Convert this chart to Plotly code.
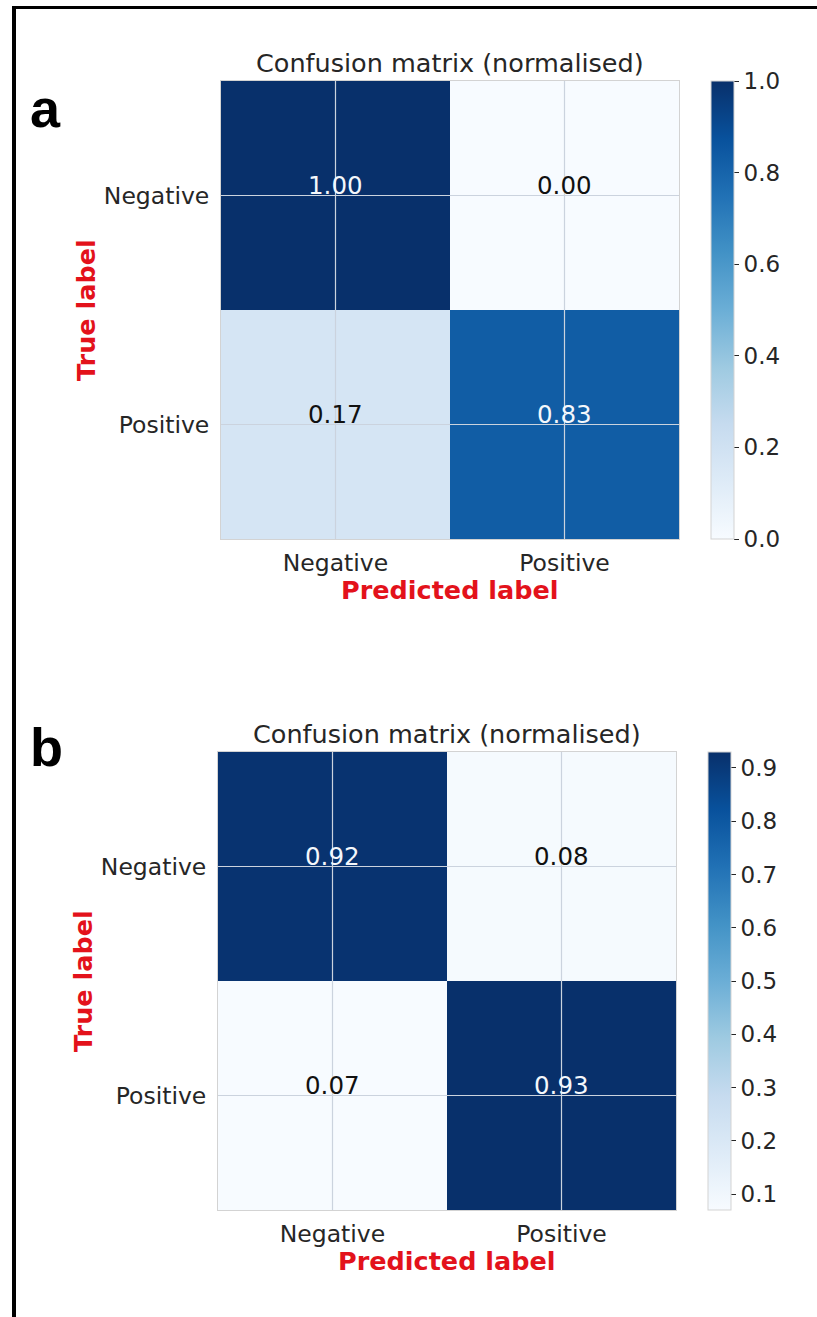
import plotly.graph_objects as go

# ---------------- data ----------------
pred_labels = ["Negative", "Positive"]
true_labels = ["Negative", "Positive"]

cm_a = [[1.00, 0.00],
        [0.17, 0.83]]
cm_b = [[0.92, 0.08],
        [0.07, 0.93]]

cbar_ticks_a = [0.0, 0.2, 0.4, 0.6, 0.8, 1.0]
cbar_ticks_b = [0.1, 0.2, 0.3, 0.4, 0.5, 0.6, 0.7, 0.8, 0.9]

panel_letters = ["a", "b"]
title_text = "Confusion matrix (normalised)"
xlabel_text = "Predicted label"
ylabel_text = "True label"

# ---------------- geometry helpers ----------------
W, H = 817, 1317


def px(x):
    return x / W


def py(y):
    return 1 - y / H


TXT = "#262626"
RED = "#e3121b"
GRID = "#cbd3de"
FONT = "DejaVu Sans"

panels = [
    dict(z=cm_a, ticks=cbar_ticks_a, hx0=221, hx1=679, hy0=81, hy1=539, cbx=711, xa="x", ya="y",
         xaxis="xaxis", yaxis="yaxis", letter_y=140),
    dict(z=cm_b, ticks=cbar_ticks_b, hx0=218, hx1=676, hy0=752, hy1=1210, cbx=708, xa="x2", ya="y2",
         xaxis="xaxis2", yaxis="yaxis2", letter_y=779),
]

fig = go.Figure()
annotations = []
shapes = []
layout_axes = {}

for k, p in enumerate(panels):
    z = p["z"]
    flat = [v for row in z for v in row]
    zmin, zmax = min(flat), max(flat)
    fig.add_trace(go.Heatmap(
        z=z, x=pred_labels, y=true_labels,
        xaxis=p["xa"], yaxis=p["ya"],
        colorscale="Blues", zmin=zmin, zmax=zmax,
        xgap=0, ygap=0,
        colorbar=dict(
            x=px(p["cbx"]), xanchor="left", xpad=0,
            y=py(p["hy0"]), yanchor="top", ypad=0,
            len=(p["hy1"] - p["hy0"]) / H, lenmode="fraction",
            thickness=23, thicknessmode="pixels",
            outlinewidth=1, outlinecolor="#d3d3d3",
            tickvals=p["ticks"], ticktext=[f"{t:.1f}" for t in p["ticks"]],
            ticks="outside", ticklen=5, tickwidth=1, tickcolor=TXT,
            tickfont=dict(family=FONT, size=23, color=TXT),
        ),
        hoverinfo="skip",
    ))

    thresh = zmax / 2
    for i, tl in enumerate(true_labels):
        for j, pl in enumerate(pred_labels):
            v = z[i][j]
            annotations.append(dict(
                x=pl, y=tl, xref=p["xa"], yref=p["ya"],
                text=f"{v:.2f}", showarrow=False,
                font=dict(family=FONT, size=24.5, color="#f4f7fb" if v > thresh else "#111111"),
                xanchor="center", yanchor="middle", yshift=10,
            ))

    # grid lines at tick positions (drawn over the heatmap like the original)
    for j in range(len(pred_labels)):
        shapes.append(dict(type="line", xref=p["xa"], yref=p["ya"] + " domain",
                           x0=j, x1=j, y0=0, y1=1, line=dict(color=GRID, width=1.2), layer="above"))
    for i in range(len(true_labels)):
        shapes.append(dict(type="line", xref=p["xa"] + " domain", yref=p["ya"],
                           x0=0, x1=1, y0=i, y1=i, line=dict(color=GRID, width=1.2), layer="above"))

    cx = (p["hx0"] + p["hx1"]) / 2
    cy = (p["hy0"] + p["hy1"]) / 2
    annotations.append(dict(x=px(cx), y=py(p["hy0"] - 18), xref="paper", yref="paper",
                            text=title_text, showarrow=False, xanchor="center", yanchor="middle",
                            font=dict(family=FONT, size=25.5, color=TXT)))
    annotations.append(dict(x=px(cx), y=py(p["hy1"] + 51), xref="paper", yref="paper",
                            text=f"<b>{xlabel_text}</b>", showarrow=False, xanchor="center", yanchor="middle",
                            font=dict(family=FONT, size=25.5, color=RED)))
    annotations.append(dict(x=px(p["hx0"] - 135), y=py(cy), xref="paper", yref="paper",
                            text=f"<b>{ylabel_text}</b>", showarrow=False, xanchor="center", yanchor="middle",
                            textangle=-90, font=dict(family=FONT, size=25.5, color=RED)))
    annotations.append(dict(x=px(28), y=py(p["letter_y"]), xref="paper", yref="paper",
                            text=f"<b>{panel_letters[k]}</b>", showarrow=False, xanchor="left", yanchor="bottom",
                            font=dict(family="Liberation Sans", size=54, color="black")))

    layout_axes[p["xaxis"]] = dict(
        domain=[px(p["hx0"]), px(p["hx1"])], anchor=p["ya"],
        showgrid=False, zeroline=False, ticks="", ticklabelstandoff=3,
        showline=True, mirror=True, linecolor="#d3d3d3", linewidth=1,
        tickfont=dict(family=FONT, size=23.5, color=TXT), fixedrange=True,
    )
    layout_axes[p["yaxis"]] = dict(
        domain=[py(p["hy1"]), py(p["hy0"])], anchor=p["xa"],
        autorange="reversed",
        showgrid=False, zeroline=False, ticks="", ticklabelstandoff=6,
        showline=True, mirror=True, linecolor="#d3d3d3", linewidth=1,
        tickfont=dict(family=FONT, size=23.5, color=TXT), fixedrange=True,
    )

# outer frame (left and top edges, as in the cropped original)
shapes.append(dict(type="line", xref="paper", yref="paper", x0=px(14), x1=px(14), y0=0, y1=py(6),
                   line=dict(color="black", width=4)))
shapes.append(dict(type="line", xref="paper", yref="paper", x0=px(12), x1=1, y0=py(7.5), y1=py(7.5),
                   line=dict(color="black", width=3)))

fig.update_layout(
    width=W, height=H,
    margin=dict(l=0, r=0, t=0, b=0),
    paper_bgcolor="white", plot_bgcolor="white",
    showlegend=False,
    annotations=annotations,
    shapes=shapes,
    **layout_axes,
)

fig.write_html("out.html",
               config={"displayModeBar": False, "staticPlot": True},
               post_script="document.body.style.margin='0';document.body.style.overflow='hidden';")
